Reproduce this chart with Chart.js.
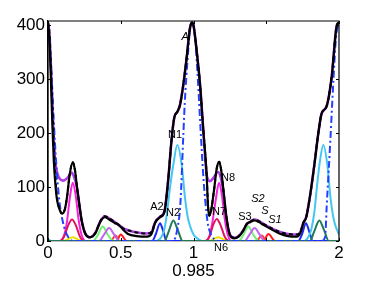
<!DOCTYPE html>
<html><head><meta charset="utf-8">
<script src="https://cdn.jsdelivr.net/npm/chart.js@4/dist/chart.umd.min.js"></script>
<style>html,body{margin:0;padding:0;background:#fff;}canvas{display:block;}</style>
</head><body>
<canvas id="c" width="374" height="283"></canvas>
<script>
const xTickValues = [0, 0.5, 1, 1.5, 2];
const xTickLabels = ['0', '0.5', '1', '', '2'];
const yTickValues = [0, 100, 200, 300, 400];
const xTitle = '0.985';

const blackSolid = [[0,405],[0.01,372],[0.02,300],[0.03,215],[0.04,148],[0.05,108],[0.06,80],[0.08,58],[0.098,51],[0.115,58],[0.13,80],[0.15,125],[0.17,146],[0.185,132],[0.2,98],[0.215,68],[0.23,40],[0.255,14],[0.29,7],[0.325,14],[0.36,36],[0.39,44],[0.425,39],[0.46,33],[0.485,30],[0.52,20],[0.55,13],[0.61,9],[0.68,8],[0.713,14],[0.735,33],[0.77,44],[0.80,54],[0.825,110],[0.85,190],[0.868,229],[0.89,240],[0.907,252],[0.93,290],[0.953,340],[0.976,395],[0.99,405],[1.0,400],[1.022,352],[1.045,290],[1.067,207],[1.09,124],[1.1,64],[1.107,47],[1.12,55],[1.14,92],[1.16,135],[1.177,147],[1.19,132],[1.205,96],[1.225,46],[1.25,11],[1.28,5],[1.31,8],[1.34,18],[1.366,32],[1.39,35],[1.42,38],[1.45,35],[1.48,30],[1.526,23],[1.59,14],[1.65,9],[1.71,8],[1.735,15],[1.755,33],[1.775,44],[1.80,82],[1.83,140],[1.858,200],[1.88,236],[1.915,250],[1.95,305],[1.985,400],[2,405]];

const fitSum = [[0,405],[0.01,385],[0.02,325],[0.03,255],[0.037,205],[0.048,152],[0.064,126],[0.082,115],[0.105,112],[0.14,119],[0.163,127],[0.18,118],[0.2,98],[0.215,68],[0.23,40],[0.255,15],[0.29,7],[0.325,15],[0.36,37],[0.39,46],[0.425,41],[0.46,35],[0.495,28],[0.52,23],[0.55,20],[0.586,17],[0.678,14],[0.713,17],[0.735,34],[0.77,45],[0.80,55],[0.825,110],[0.85,190],[0.868,229],[0.89,240],[0.907,252],[0.93,290],[0.953,340],[0.976,395],[0.99,405],[1.0,400],[1.022,352],[1.045,290],[1.067,207],[1.09,124],[1.113,111],[1.14,118],[1.168,128],[1.185,120],[1.2,100],[1.215,70],[1.225,46],[1.25,12],[1.28,6],[1.31,9],[1.34,19],[1.366,31],[1.39,36],[1.42,40],[1.45,37],[1.48,32],[1.526,25],[1.59,17],[1.65,13],[1.71,12],[1.735,17],[1.755,34],[1.775,45],[1.80,82],[1.83,140],[1.858,200],[1.88,236],[1.915,250],[1.95,305],[1.985,400],[2,405]];

const blackDashed = [[0,405],[0.01,385],[0.02,325],[0.03,255],[0.037,205],[0.045,150],[0.06,85],[0.08,58],[0.098,51],[0.115,58],[0.13,80],[0.15,125],[0.17,146],[0.185,132],[0.2,98],[0.215,68],[0.23,40],[0.255,15],[0.29,7],[0.325,15],[0.36,37],[0.39,46],[0.425,41],[0.46,35],[0.495,28],[0.52,23],[0.55,20],[0.586,17],[0.678,14],[0.713,17],[0.735,34],[0.77,45],[0.80,55],[0.825,110],[0.85,190],[0.868,229],[0.89,240],[0.907,252],[0.93,290],[0.953,340],[0.976,395],[0.99,405],[1.0,400],[1.022,352],[1.045,290],[1.067,207],[1.09,124],[1.1,64],[1.107,47],[1.12,55],[1.14,92],[1.16,135],[1.177,147],[1.19,132],[1.205,96],[1.225,46],[1.25,12],[1.28,6],[1.31,9],[1.34,19],[1.366,31],[1.39,36],[1.42,40],[1.45,37],[1.48,32],[1.526,25],[1.59,17],[1.65,13],[1.71,12],[1.735,17],[1.755,34],[1.775,45],[1.80,82],[1.83,140],[1.858,200],[1.88,236],[1.915,250],[1.95,305],[1.985,400],[2,405]];

const compA = [[0,405],[0.02,330],[0.04,220],[0.06,130],[0.08,70],[0.1,38],[0.12,18],[0.14,7],[0.17,0],[0.86,0],[0.89,24],[0.91,70],[0.93,196],[0.94,256],[0.96,340],[0.975,390],[0.99,405],[1.01,380],[1.03,300],[1.05,200],[1.07,110],[1.09,50],[1.1,30],[1.12,12],[1.15,2],[1.18,0],[1.88,0],[1.905,8],[1.915,62],[1.94,184],[1.96,290],[1.98,380],[2,405]];
const compN1 = [[0,3],[0.03,0],[0.74,0],[0.78,8],[0.80,22],[0.816,48],[0.838,98],[0.861,141],[0.889,178],[0.919,141],[0.942,79],[0.96,45],[0.976,28],[1.0,12],[1.03,4],[1.06,0],[1.76,0],[1.79,8],[1.81,22],[1.83,52],[1.85,105],[1.87,150],[1.892,178],[1.92,141],[1.942,79],[1.96,45],[1.976,28],[2,12]];
const compN8 = [[0,0],[0.08,0],[0.11,10],[0.13,35],[0.15,80],[0.17,108],[0.19,85],[0.21,40],[0.23,12],[0.26,0],[1.08,0],[1.11,10],[1.13,35],[1.155,80],[1.175,108],[1.195,85],[1.215,40],[1.235,12],[1.26,0],[2,0]];
const compN7 = [[0,0],[0.08,0],[0.11,8],[0.14,30],[0.165,40],[0.19,30],[0.22,8],[0.25,0],[1.08,0],[1.11,8],[1.135,30],[1.16,41],[1.185,30],[1.215,8],[1.245,0],[2,0]];
const compN6 = [[0,0],[0.11,0],[0.14,4],[0.17,7],[0.2,4],[0.23,0],[1.11,0],[1.14,4],[1.17,7],[1.2,4],[1.23,0],[2,0]];
const compA2 = [[0,0],[0.715,0],[0.74,12],[0.77,33],[0.79,20],[0.815,0],[1.72,0],[1.745,12],[1.773,33],[1.795,18],[1.82,0],[2,0]];
const compN2 = [[0,0],[0.80,0],[0.83,18],[0.861,38],[0.89,22],[0.925,0],[1.80,0],[1.83,18],[1.865,38],[1.895,22],[1.93,0],[2,0]];
const compS3 = [[0,0],[0.31,0],[0.34,10],[0.376,27],[0.41,12],[0.45,0],[1.31,0],[1.34,10],[1.377,27],[1.41,12],[1.45,0],[2,0]];
const compS2 = [[0,0],[0.35,0],[0.385,12],[0.42,24],[0.455,12],[0.49,0],[1.35,0],[1.385,12],[1.42,24],[1.455,12],[1.49,0],[2,0]];
const compS = [[0,0],[0.43,0],[0.465,10],[0.49,0],[1.43,0],[1.47,10],[1.5,0],[2,0]];
const compS1 = [[0,0],[0.47,0],[0.5,12],[0.54,0],[1.48,0],[1.515,13],[1.56,0],[2,0]];

const labelTexts = ['A', 'N1', 'N8', 'A2', 'N2', 'N7', 'N6', 'S3', 'S2', 'S', 'S1'];
const labelX = [0.942, 0.873, 1.237, 0.749, 0.859, 1.175, 1.189, 1.354, 1.443, 1.491, 1.56];
const labelY = [378, 197, 117, 63, 52, 54, -13, 45, 78, 56, 39];
const labelItalic = [true, false, false, false, false, false, false, false, true, true, true];

const pts = a => a.map(p => ({x: p[0], y: p[1]}));
function ds(data, color, width, dash) {
  return {data: pts(data), borderColor: color, borderWidth: width, borderDash: dash || [],
    pointRadius: 0, fill: false, cubicInterpolationMode: 'monotone'};
}

const FONT = "'Liberation Sans', Arial, sans-serif";

const boxPlugin = {
  id: 'box',
  afterDraw(chart) {
    const {ctx, chartArea: a, scales: {x, y}} = chart;
    ctx.save();
    ctx.strokeStyle = '#000';
    ctx.lineWidth = 1.2;
    ctx.beginPath();
    ctx.moveTo(a.left, a.top); ctx.lineTo(a.right, a.top); ctx.lineTo(a.right, a.bottom);
    ctx.moveTo(a.left, a.top); ctx.lineTo(a.left, a.bottom);
    ctx.stroke();
    ctx.lineWidth = 1;
    ctx.beginPath();
    xTickValues.forEach(v => {
      const px = Math.round(x.getPixelForValue(v)) + 0.5;
      ctx.moveTo(px, a.top); ctx.lineTo(px, a.top + 3);
      ctx.moveTo(px, a.bottom); ctx.lineTo(px, a.bottom - 3);
    });
    yTickValues.forEach(v => {
      const py = Math.round(y.getPixelForValue(v)) + 0.5;
      ctx.moveTo(a.left, py); ctx.lineTo(a.left + 3, py);
      ctx.moveTo(a.right, py); ctx.lineTo(a.right - 3, py);
    });
    ctx.stroke();
    ctx.fillStyle = '#000';
    ctx.textAlign = 'center';
    ctx.textBaseline = 'middle';
    labelTexts.forEach((t, i) => {
      ctx.font = (labelItalic[i] ? 'italic ' : '') + '11px ' + FONT;
      ctx.fillText(t, x.getPixelForValue(labelX[i]), y.getPixelForValue(labelY[i]));
    });
    ctx.restore();
  }
};

new Chart(document.getElementById('c'), {
  type: 'line',
  data: {
    datasets: [
      ds(blackDashed, '#000000', 2, [4, 3]),
      ds(blackSolid, '#000000', 2.2),
      ds(compA, '#2340ff', 2, [7, 3, 2, 3]),
      ds(fitSum, '#b03ee8', 2.6),
      ds(compN2, '#1f7a58', 2),
      ds(compN1, '#44c6f2', 2),
      ds(compA2, '#1a28f0', 2),
      ds(compN7, '#e0145c', 2),
      ds(compN8, '#f424dc', 2),
      ds(compS2, '#c364f0', 2),
      ds(compS3, '#72ee72', 2),
      ds(compS, '#ff3a3a', 2),
      ds(compS1, '#ff1a1a', 2),
      ds(compN6, '#eee000', 2)
    ]
  },
  options: {
    responsive: false,
    devicePixelRatio: 1,
    animation: false,
    parsing: true,
    layout: {padding: {left: 0, top: 21, right: 35, bottom: 0}},
    plugins: {legend: {display: false}, tooltip: {enabled: false}},
    scales: {
      x: {
        type: 'linear', min: 0, max: 2,
        afterFit: s => { s.height = 42; },
        afterBuildTicks: s => { s.ticks = xTickValues.map(v => ({value: v})); },
        grid: {display: false, drawTicks: false},
        border: {display: true, color: '#000', width: 1.2},
        ticks: {autoSkip: false, maxRotation: 0, padding: 2, color: '#000',
          font: {family: FONT, size: 17},
          callback: (v) => xTickLabels[xTickValues.indexOf(v)]},
        title: {display: true, text: xTitle, color: '#000', font: {family: FONT, size: 17}, padding: {top: 0, bottom: 1}}
      },
      y: {
        type: 'linear', min: 0, max: 408,
        afterFit: s => { s.width = 48; },
        afterBuildTicks: s => { s.ticks = yTickValues.map(v => ({value: v})); },
        grid: {display: false, drawTicks: false},
        border: {display: true, color: '#000', width: 1.2},
        ticks: {padding: 3, color: '#000', font: {family: FONT, size: 17}}
      }
    }
  },
  plugins: [boxPlugin]
});
</script>
</body></html>
